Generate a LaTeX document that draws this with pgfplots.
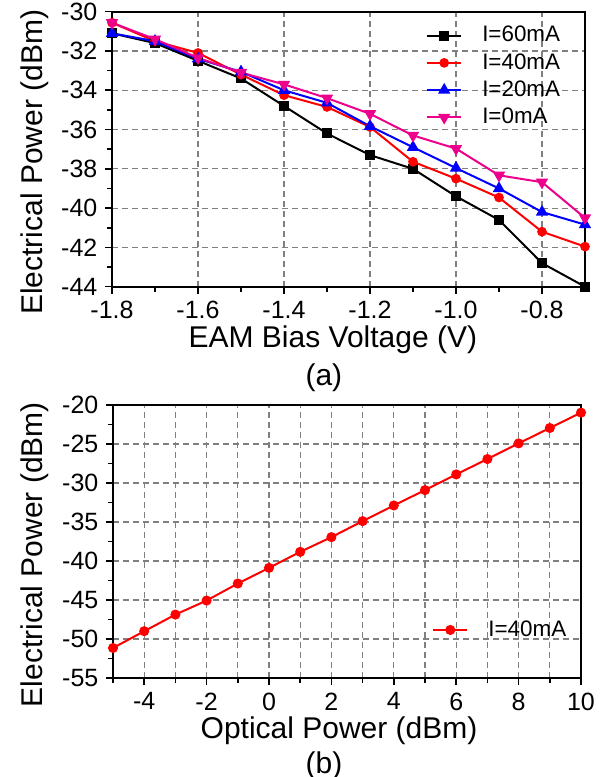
\documentclass[border=0pt]{standalone}
\usepackage{fontspec}
\setmainfont{Liberation Sans}
\usepackage{pgfplots}
\pgfplotsset{compat=1.18}
\definecolor{gridgray}{HTML}{808080}

\pgfplotsset{
  panel/.style={
    scale only axis, axis on top=false,
    line width=1pt, axis line style={line width=1.1pt},
    tick align=outside, major tick length=3.5pt, minor tick length=2.5pt,
    xtick pos=left, ytick pos=left,
    every tick/.style={black, line width=0.8pt},
    tick label style={font=\fontsize{12.5}{13}\selectfont},
    label style={font=\fontsize{15}{16}\selectfont},
    /pgf/number format/assume math mode=true,
    major grid style={gridgray, line width=0.6pt, dash pattern=on 3pt off 2pt},
    minor grid style={gridgray, line width=0.6pt, dash pattern=on 3pt off 2pt},
    legend style={draw=none, fill=none, font=\fontsize{11.2}{12.5}\selectfont, inner sep=0pt,
      row sep=0.3pt,
      /tikz/every odd column/.append style={column sep=8pt}},
    legend cell align=left,
  },
}

\begin{document}
\begin{tikzpicture}
\useasboundingbox (0,0) rectangle (303pt,388.5pt);

% (a) EAM bias sweep
\begin{axis}[panel, at={(56pt,245.15pt)}, anchor=south west,
  width=236.5pt, height=137.5pt,
  xmin=-1.8, xmax=-0.7, ymin=-44, ymax=-30,
  xtick={-1.8,-1.6,...,-0.7}, minor xtick={-1.7,-1.5,...,-0.6},
  ytick={-44,-42,...,-30}, minor ytick={-43,-41,...,-31},
  xticklabel style={/pgf/number format/.cd, fixed, fixed zerofill, precision=1},
  xmajorgrids, ymajorgrids,
  xlabel={EAM Bias Voltage (V)}, ylabel={Electrical Power (dBm)},
  xlabel style={at={(axis description cs:0.467,-0.222)}, anchor=base},
  ylabel style={at={(axis description cs:-0.146,0.452)}, anchor=base},
  legend style={at={(axis description cs:0.662,0.965)}, anchor=north west},
  clip=false]
\addplot[black, mark=square*, mark size=2pt] coordinates {
  (-1.8,-31.1) (-1.7,-31.6) (-1.6,-32.5) (-1.5,-33.4) (-1.4,-34.8) (-1.3,-36.2)
  (-1.2,-37.3) (-1.1,-38.0) (-1.0,-39.4) (-0.9,-40.6) (-0.8,-42.8) (-0.7,-44.0)};
\addplot[red, mark=*, mark size=1.9pt] coordinates {
  (-1.8,-30.56) (-1.7,-31.5) (-1.6,-32.1) (-1.5,-33.2) (-1.4,-34.25) (-1.3,-34.85)
  (-1.2,-35.87) (-1.1,-37.64) (-1.0,-38.5) (-0.9,-39.46) (-0.8,-41.2) (-0.7,-41.96)};
\addplot[blue, mark=triangle*, mark size=2.6pt] coordinates {
  (-1.8,-31.1) (-1.7,-31.5) (-1.6,-32.4) (-1.5,-33.06) (-1.4,-34.0) (-1.3,-34.64)
  (-1.2,-35.83) (-1.1,-36.9) (-1.0,-37.96) (-0.9,-39.0) (-0.8,-40.2) (-0.7,-40.84)};
\addplot[magenta, mark=triangle*, mark options={rotate=180}, mark size=2.6pt] coordinates {
  (-1.8,-30.56) (-1.7,-31.4) (-1.6,-32.35) (-1.5,-33.1) (-1.4,-33.7) (-1.3,-34.4)
  (-1.2,-35.2) (-1.1,-36.3) (-1.0,-36.97) (-0.9,-38.33) (-0.8,-38.68) (-0.7,-40.5)};
\legend{I=60mA, I=40mA, I=20mA, I=0mA}
\node[font=\fontsize{15}{16}\selectfont, anchor=base] at (axis description cs:0.448,-0.361) {(a)};
\end{axis}

% (b) optical power sweep
\begin{axis}[panel, at={(56.5pt,49.5pt)}, anchor=south west,
  width=234pt, height=136.5pt,
  xmin=-5, xmax=10, ymin=-55, ymax=-20,
  xtick={-4,-2,...,10}, minor xtick={-5,-3,...,9},
  ytick={-55,-50,...,-20}, minor ytick={-52.5,-47.5,...,-22.5},
  xmajorgrids, xminorgrids, ymajorgrids,
  xlabel={Optical Power (dBm)}, ylabel={Electrical Power (dBm)},
  xlabel style={at={(axis description cs:0.483,-0.22)}, anchor=base},
  ylabel style={at={(axis description cs:-0.15,0.452)}, anchor=base},
  legend style={at={(axis description cs:0.68,0.176)}, anchor=west},
  clip=false]
\addplot[red, mark=*, mark size=2pt] coordinates {
  (-5,-51.15) (-4,-49.0) (-3,-46.87) (-2,-45.07) (-1,-42.89) (0,-40.88) (1,-38.83) (2,-36.94)
  (3,-34.89) (4,-32.88) (5,-30.91) (6,-28.9) (7,-26.93) (8,-24.92) (9,-22.95) (10,-20.98)};
\legend{I=40mA}
\node[font=\fontsize{15}{16}\selectfont, anchor=base] at (axis description cs:0.451,-0.35) {(b)};
\end{axis}
\end{tikzpicture}
\end{document}
